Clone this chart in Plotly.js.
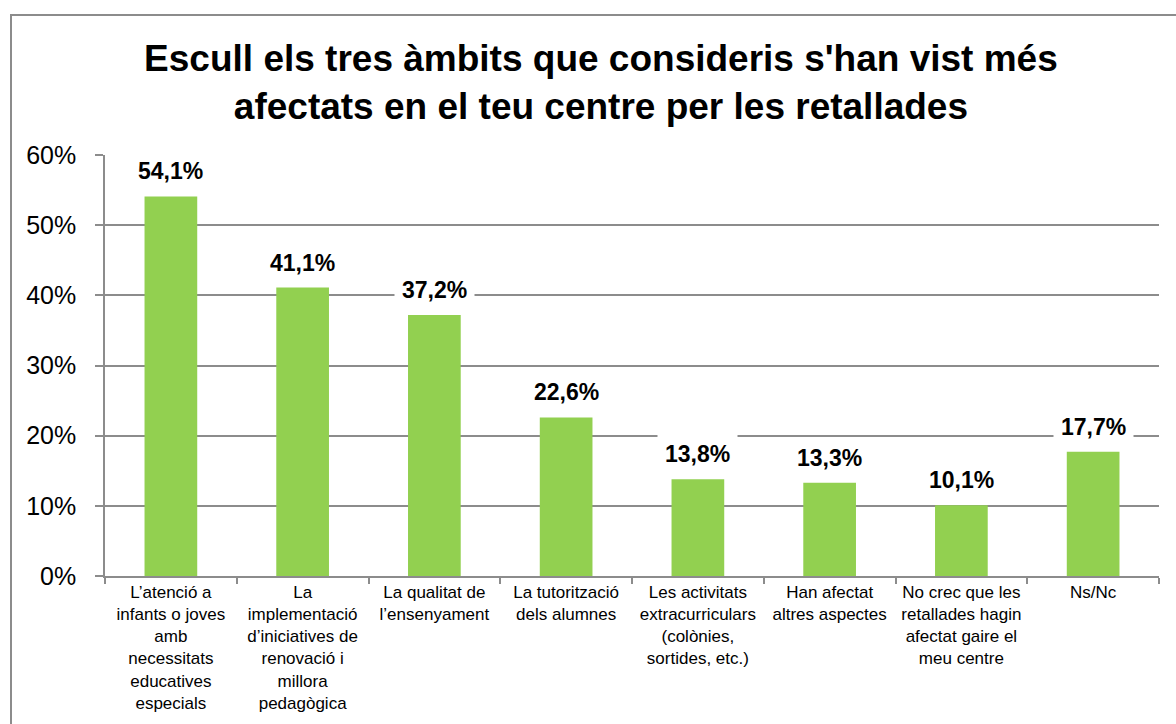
<!DOCTYPE html>
<html>
<head>
<meta charset="utf-8">
<script src="https://cdn.plot.ly/plotly-3.0.1.min.js"></script>
<style>
  html, body { margin: 0; padding: 0; background: #ffffff; }
  #chart { width: 1176px; height: 724px; }
</style>
</head>
<body>
<div id="chart"></div>
<script>
const categories = [
  "L’atenció a<br>infants o joves<br>amb<br>necessitats<br>educatives<br>especials",
  "La<br>implementació<br>d’iniciatives de<br>renovació i<br>millora<br>pedagògica",
  "La qualitat de<br>l’ensenyament",
  "La tutorització<br>dels alumnes",
  "Les activitats<br>extracurriculars<br>(colònies,<br>sortides, etc.)",
  "Han afectat<br>altres aspectes",
  "No crec que les<br>retallades hagin<br>afectat gaire el<br>meu centre",
  "Ns/Nc"
];
const values = [54.1, 41.1, 37.2, 22.6, 13.8, 13.3, 10.1, 17.7];
const valueLabels = ["54,1%", "41,1%", "37,2%", "22,6%", "13,8%", "13,3%", "10,1%", "17,7%"];
const yTickValues = [0, 10, 20, 30, 40, 50, 60];
const titleText = "Escull els tres àmbits que consideris s'han vist més<br>afectats en el teu centre per les retallades";

const FONT = "Liberation Sans, Arial, sans-serif";
const GRID = "#8c8c8c";

const trace = {
  type: "bar",
  x: categories,
  y: values,
  marker: { color: "#92D050", line: { width: 0 } },
  hoverinfo: "x+y"
};

const annotations = categories.map((c, i) => ({
  x: c,
  y: values[i],
  xref: "x",
  yref: "y",
  text: "<b>" + valueLabels[i] + "</b>",
  showarrow: false,
  yanchor: "middle",
  yshift: 25,
  bgcolor: "#ffffff",
  borderpad: 7,
  font: { family: FONT, size: 23, color: "#000000" }
}));

const L = 105, R = 1159, T = 155, B = 576;
const pw = R - L, ph = B - T;
const shapes = [{
  type: "rect",
  xref: "paper", yref: "paper",
  x0: (11 - L) / pw, x1: (1190 - L) / pw,
  y0: (B - 740) / ph, y1: (B - 15) / ph,
  line: { color: GRID, width: 2 },
  fillcolor: "rgba(0,0,0,0)",
  layer: "below"
}];

const layout = {
  width: 1176,
  height: 724,
  margin: { l: L, r: 1176 - R, t: T, b: 724 - B, pad: 0 },
  paper_bgcolor: "#ffffff",
  plot_bgcolor: "#ffffff",
  showlegend: false,
  bargap: 0.6,
  title: {
    text: "<b>" + titleText + "</b>",
    x: 0.511,
    xanchor: "center",
    y: 1 - 71 / 724,
    yanchor: "middle",
    yref: "container",
    font: { family: FONT, size: 37, color: "#000000" }
  },
  xaxis: {
    type: "category",
    showline: true,
    linecolor: GRID,
    linewidth: 1.5,
    ticks: "outside",
    tickson: "boundaries",
    ticklen: 6,
    tickcolor: GRID,
    tickwidth: 1.5,
    showgrid: false,
    tickangle: 0,
    tickfont: { family: FONT, size: 17, color: "#000000" },
    automargin: false
  },
  yaxis: {
    range: [0, 60],
    tickvals: yTickValues,
    ticktext: yTickValues.map(v => v + "%"),
    showline: true,
    linecolor: GRID,
    linewidth: 1.5,
    ticks: "outside",
    ticklen: 8,
    tickcolor: GRID,
    tickwidth: 1.5,
    showgrid: true,
    gridcolor: GRID,
    gridwidth: 1.5,
    zeroline: false,
    ticklabelstandoff: 14,
    tickfont: { family: FONT, size: 25, color: "#000000" },
    automargin: false
  },
  annotations: annotations,
  shapes: shapes
};

Plotly.newPlot("chart", [trace], layout, { displayModeBar: false, responsive: false });
</script>
</body>
</html>
